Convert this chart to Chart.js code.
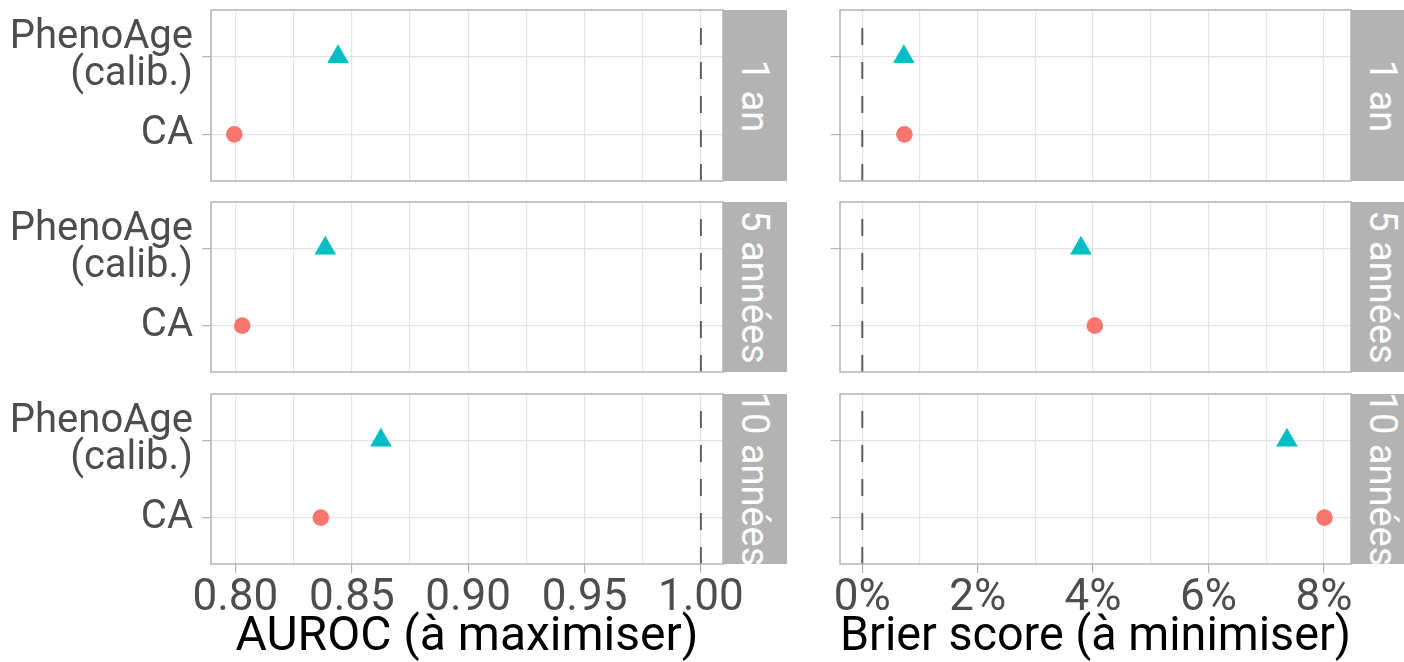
<!DOCTYPE html>
<html lang="fr">
<head>
<meta charset="utf-8">
<script src="https://cdn.jsdelivr.net/npm/chart.js@4.4.1/dist/chart.umd.min.js"></script>
<style>
  html, body { margin: 0; padding: 0; background: #fff; overflow: hidden; }
  body { width: 1404px; height: 662px; position: relative; font-family: Roboto, sans-serif; }
  canvas { position: absolute; }
  .strip { position: absolute; background: #b3b3b3; overflow: hidden; }
  .strip span {
    position: absolute; left: 50%; top: 50%;
    transform: translate(-50%, -50%) rotate(90deg);
    color: #fff; font-size: 38px; white-space: nowrap; line-height: 1;
  }
</style>
</head>
<body>
<script>
'use strict';

// facettes et modèles
const horizons = ['1 an', '5 années', '10 années'];
const models = ['CA', ['PhenoAge', '(calib.)']];

// valeurs (une par horizon)
const aurocCA = [0.7995, 0.8029, 0.8367];
const aurocPheno = [0.8441, 0.8386, 0.8625];
const brierCA = [0.0073, 0.0403, 0.0801];
const brierPheno = [0.0072, 0.0379, 0.0736];

// graduations
const aurocTicks = [0.80, 0.85, 0.90, 0.95, 1.00];
const aurocMinor = [0.825, 0.875, 0.925, 0.975];
const brierTicks = [0, 0.02, 0.04, 0.06, 0.08];
const brierMinor = [0.01, 0.03, 0.05, 0.07];

// lignes de référence
const aurocRef = 1.00;
const brierRef = 0;

const colorCA = '#F8766D';
const colorPheno = '#00BFC4';
const gridColor = '#e4e4e4';
const frameColor = '#b3b3b3';

Chart.defaults.font.family = 'Roboto, sans-serif';

const rowBox = [[10, 181], [202, 372], [394, 564]];
const colBox = [
    { left: 211, right: 723, canvasLeft: 0, canvasRight: 800 },
    { left: 840, right: 1351, canvasLeft: 800, canvasRight: 1404 }
];

const metrics = [
    {
        ca: aurocCA, pheno: aurocPheno, major: aurocTicks, minor: aurocMinor, ref: aurocRef,
        min: 0.7895, max: 1.0095, title: 'AUROC (à maximiser)',
        fmt: v => v.toFixed(2), yLabels: true
    },
    {
        ca: brierCA, pheno: brierPheno, major: brierTicks, minor: brierMinor, ref: brierRef,
        min: -0.00386, max: 0.0847, title: 'Brier score (à minimiser)',
        fmt: v => Math.round(v * 100) + '%', yLabels: false
    }
];

/* cadre du panneau */
const panelBorder = {
    id: 'panelBorder',
    afterDraw(chart) {
        const a = chart.chartArea;
        const ctx = chart.ctx;
        ctx.save();
        ctx.strokeStyle = frameColor;
        ctx.lineWidth = 1.5;
        ctx.strokeRect(a.left, a.top, a.right - a.left, a.bottom - a.top);
        ctx.restore();
    }
};

function isIn(list, v) {
    return list.some(m => Math.abs(m - v) < 1e-9);
}

function makePanel(r, c) {
    const m = metrics[c];
    const col = colBox[c];
    const [top, bottom] = rowBox[r];
    const isBottom = r === rowBox.length - 1;

    const cTop = top - 10;
    const cBottom = isBottom ? 662 : bottom + 9;
    const width = col.canvasRight - col.canvasLeft;
    const height = cBottom - cTop;
    const xHeight = cBottom - bottom;
    const yWidth = col.left - col.canvasLeft;

    const canvas = document.createElement('canvas');
    canvas.width = width;
    canvas.height = height;
    canvas.style.left = col.canvasLeft + 'px';
    canvas.style.top = cTop + 'px';
    canvas.style.width = width + 'px';
    canvas.style.height = height + 'px';
    document.body.appendChild(canvas);

    const gridValues = [...m.major, ...m.minor].sort((a, b) => a - b);
    const yTop = models.length + 0.6;
    const yBottom = 0.4;

    new Chart(canvas.getContext('2d'), {
        type: 'scatter',
        data: {
            datasets: [
                {
                    type: 'line',
                    data: [{ x: m.ref, y: yBottom }, { x: m.ref, y: yTop }],
                    borderColor: '#5e5e5e',
                    borderWidth: 2,
                    borderDash: [17, 17],
                    pointRadius: 0,
                    fill: false
                },
                {
                    label: 'CA',
                    data: [{ x: m.ca[r], y: 1 }],
                    backgroundColor: colorCA,
                    borderWidth: 0,
                    pointStyle: 'circle',
                    pointRadius: 8.3
                },
                {
                    label: 'PhenoAge (calib.)',
                    data: [{ x: m.pheno[r], y: 2 }],
                    backgroundColor: colorPheno,
                    borderWidth: 0,
                    pointStyle: 'triangle',
                    pointRadius: 12.5
                }
            ]
        },
        options: {
            responsive: false,
            animation: false,
            events: [],
            layout: {
                autoPadding: false,
                padding: { top: 10, right: col.canvasRight - col.right, left: 0, bottom: 0 }
            },
            plugins: {
                legend: { display: false },
                tooltip: { enabled: false }
            },
            scales: {
                x: {
                    type: 'linear',
                    min: m.min,
                    max: m.max,
                    afterBuildTicks: s => { s.ticks = gridValues.map(v => ({ value: v })); },
                    afterFit: s => {
                        s.height = xHeight;
                        s.paddingLeft = 0;
                        s.paddingRight = 0;
                    },
                    border: { display: false },
                    grid: {
                        color: gridColor,
                        lineWidth: 1.2,
                        drawTicks: isBottom,
                        tickLength: 9,
                        tickColor: ctx => (ctx.tick && isIn(m.major, ctx.tick.value)) ? frameColor : 'rgba(0,0,0,0)'
                    },
                    ticks: {
                        display: isBottom,
                        autoSkip: false,
                        maxRotation: 0,
                        padding: 0,
                        color: '#4d4d4d',
                        font: { size: 44 },
                        callback: v => isIn(m.major, v) ? m.fmt(v) : ''
                    },
                    title: {
                        display: isBottom,
                        text: m.title,
                        color: '#000',
                        font: { size: 48, lineHeight: 1 },
                        padding: { top: 0, bottom: 0 }
                    }
                },
                y: {
                    type: 'linear',
                    min: yBottom,
                    max: yTop,
                    afterBuildTicks: s => { s.ticks = models.map((_, i) => ({ value: i + 1 })); },
                    afterFit: s => {
                        s.width = yWidth;
                        s.paddingTop = 0;
                        s.paddingBottom = 0;
                    },
                    border: { display: false },
                    grid: {
                        color: gridColor,
                        lineWidth: 1.2,
                        drawTicks: true,
                        tickLength: 9,
                        tickColor: frameColor
                    },
                    ticks: {
                        padding: 9,
                        color: '#4d4d4d',
                        font: { size: 40, lineHeight: 0.92 },
                        callback: (v) => m.yLabels ? models[Math.round(v) - 1] : ''
                    }
                }
            }
        },
        plugins: [panelBorder]
    });

    const strip = document.createElement('div');
    strip.className = 'strip';
    strip.style.left = col.right + 'px';
    strip.style.top = top + 'px';
    strip.style.width = '64px';
    strip.style.height = (bottom - top) + 'px';
    const label = document.createElement('span');
    label.textContent = horizons[r];
    strip.appendChild(label);
    document.body.appendChild(strip);
}

for (let r = 0; r < horizons.length; r++) {
    for (let c = 0; c < metrics.length; c++) {
        makePanel(r, c);
    }
}
</script>
</body>
</html>
